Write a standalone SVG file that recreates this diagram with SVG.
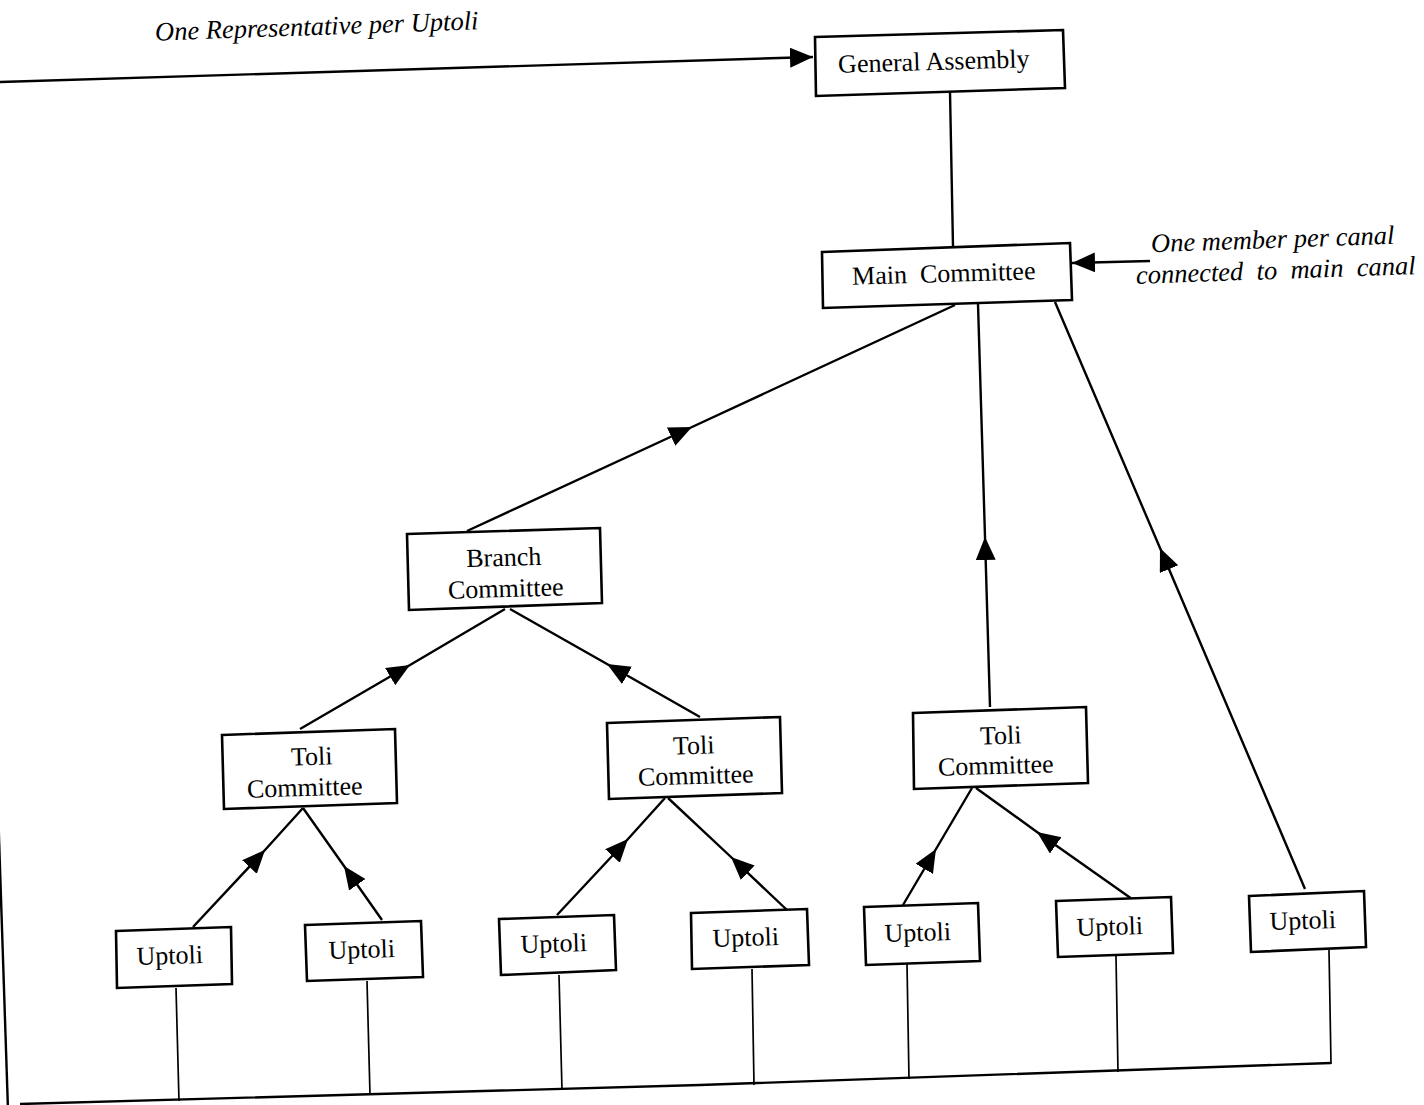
<svg xmlns="http://www.w3.org/2000/svg" width="1424" height="1105" viewBox="0 0 1424 1105">
<style>
.box{fill:#fff;stroke:#000;stroke-width:2.6;stroke-linejoin:miter}
.lbl{font-family:"Liberation Serif","Times New Roman",serif;font-size:26px;fill:#000;text-anchor:middle;white-space:pre}
.it{font-family:"Liberation Serif","Times New Roman",serif;font-style:italic;font-size:26.5px;fill:#000;text-anchor:middle;white-space:pre}
.c{fill:none;stroke:#000;stroke-width:2.4}
.t{fill:none;stroke:#000;stroke-width:1.7}
.a{marker-mid:url(#ah)}
</style>
<defs>
<marker id="ah" markerUnits="userSpaceOnUse" markerWidth="26" markerHeight="22" refX="23" refY="10" orient="auto"><path d="M0,0 L23,10 L0,20 Z" fill="#000"/></marker>
<marker id="ahe" markerUnits="userSpaceOnUse" markerWidth="26" markerHeight="22" refX="23" refY="10" orient="auto"><path d="M0,0 L23,10 L0,20 Z" fill="#000"/></marker>
</defs>
<rect width="1424" height="1105" fill="#fff"/>
<g id="connectors">
<path class="c" d="M0,82 L813,57" marker-end="url(#ahe)"/>
<path class="c" d="M-26,82 L8,1110"/>
<path class="c" d="M20,1104 L700,1085 L1331,1063"/>
<path class="c" d="M950,92 L953,247"/>
<path class="c" d="M1150,261 L1072,263" marker-end="url(#ahe)"/>
<path class="c a" d="M467,531 L692,427 L955,305"/>
<path class="c a" d="M990,707 L985,537 L978,304"/>
<path class="c a" d="M1305,889 L1160,548 L1055,302"/>
<path class="c a" d="M300,729 L410,665 L505,609"/>
<path class="c a" d="M700,717 L607,664 L510,609"/>
<path class="c a" d="M193,927 L265,850 L303,808"/>
<path class="c a" d="M382,920 L344,866 L303,808"/>
<path class="c a" d="M557,915 L628,839 L665,798"/>
<path class="c a" d="M787,910 L731,857 L668,798"/>
<path class="c a" d="M903,905 L936,849 L972,788"/>
<path class="c a" d="M1132,899 L1037,832 L976,788"/>
<path class="t" d="M176,988 L179,1101"/>
<path class="t" d="M367,981 L370,1095"/>
<path class="t" d="M559,975 L562,1090"/>
<path class="t" d="M752,969 L754,1085"/>
<path class="t" d="M907,964 L909,1079"/>
<path class="t" d="M1116,956 L1118,1072"/>
<path class="t" d="M1329,950 L1331,1064"/>
</g>
<g id="note-representative"><text class="it" x="317" y="35" transform="rotate(-2 317 35)">One Representative per Uptoli</text></g>
<g id="note-member">
<text class="it" x="1273" y="248" transform="rotate(-2 1273 248)">One member per canal</text>
<text class="it" x="1276" y="279" transform="rotate(-2 1276 279)">connected  to  main  canal</text>
</g>
<g id="general-assembly">
<polygon class="box" points="815,37 1063,30 1065,88 816,96"/>
<text class="lbl" x="934" y="70" transform="rotate(-1.7 934 70)">General Assembly</text>
</g>
<g id="main-committee">
<polygon class="box" points="822,252 1070,243 1072,300 823,308"/>
<text class="lbl" x="944" y="282" transform="rotate(-1.7 944 282)">Main  Committee</text>
</g>
<g id="branch-committee">
<polygon class="box" points="407,534 600,528 602,603 409,610"/>
<text class="lbl" x="504" y="566" transform="rotate(-1.7 504 566)">Branch</text>
<text class="lbl" x="506" y="597" transform="rotate(-1.7 506 597)">Committee</text>
</g>
<g id="toli-committee-1">
<polygon class="box" points="222,735 395,729 397,803 224,809"/>
<text class="lbl" x="312" y="765" transform="rotate(-1.7 312 765)">Toli</text>
<text class="lbl" x="305" y="796" transform="rotate(-1.7 305 796)">Committee</text>
</g>
<g id="toli-committee-2">
<polygon class="box" points="607,723 780,717 782,793 609,799"/>
<text class="lbl" x="694" y="754" transform="rotate(-1.7 694 754)">Toli</text>
<text class="lbl" x="696" y="784" transform="rotate(-1.7 696 784)">Committee</text>
</g>
<g id="toli-committee-3">
<polygon class="box" points="913,713 1086,707 1088,783 914,789"/>
<text class="lbl" x="1001" y="744" transform="rotate(-1.7 1001 744)">Toli</text>
<text class="lbl" x="996" y="774" transform="rotate(-1.7 996 774)">Committee</text>
</g>
<g id="uptoli-1"><polygon class="box" points="116,931 231,927 232,984 117,988"/><text class="lbl" x="170" y="964" transform="rotate(-1.7 170 964)">Uptoli</text></g>
<g id="uptoli-2"><polygon class="box" points="305,925 421,921 423,977 307,981"/><text class="lbl" x="362" y="958" transform="rotate(-1.7 362 958)">Uptoli</text></g>
<g id="uptoli-3"><polygon class="box" points="499,919 614,915 616,970 501,975"/><text class="lbl" x="554" y="952" transform="rotate(-1.7 554 952)">Uptoli</text></g>
<g id="uptoli-4"><polygon class="box" points="691,913 807,909 809,965 692,969"/><text class="lbl" x="746" y="946" transform="rotate(-1.7 746 946)">Uptoli</text></g>
<g id="uptoli-5"><polygon class="box" points="864,907 978,903 980,961 866,965"/><text class="lbl" x="918" y="941" transform="rotate(-1.7 918 941)">Uptoli</text></g>
<g id="uptoli-6"><polygon class="box" points="1056,901 1171,897 1173,953 1058,957"/><text class="lbl" x="1110" y="935" transform="rotate(-1.7 1110 935)">Uptoli</text></g>
<g id="uptoli-7"><polygon class="box" points="1249,896 1364,891 1366,947 1251,952"/><text class="lbl" x="1303" y="929" transform="rotate(-1.7 1303 929)">Uptoli</text></g>
</svg>
